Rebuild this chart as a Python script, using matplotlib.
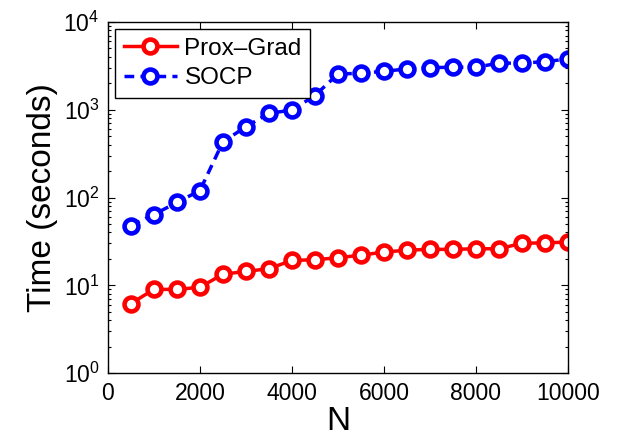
import matplotlib
matplotlib.use("Agg")
import matplotlib.pyplot as plt

plt.rcParams['font.family'] = ['Liberation Sans', 'DejaVu Sans']

N = [500, 1000, 1500, 2000, 2500, 3000, 3500, 4000, 4500, 5000,
     5500, 6000, 6500, 7000, 7500, 8000, 8500, 9000, 9500, 10000]
prox_grad = [6.2, 9.0, 9.0, 9.5, 13.4, 14.4, 15.5, 19.2, 19.6, 20.6,
             22.1, 23.9, 25.2, 25.7, 25.7, 26.1, 26.1, 30.1, 30.5, 31.1]
socp = [48, 64, 88, 120, 430, 640, 910, 990, 1450, 2550,
        2600, 2740, 2910, 3010, 3050, 3050, 3390, 3390, 3530, 3780]

fig = plt.figure(figsize=(6.2, 4.38), dpi=100)
ax = fig.add_axes([0.174, 0.148, 0.742, 0.802])

ax.plot(N, prox_grad, '-o', color='red', lw=2.5, ms=10, mew=3.3,
        mfc='white', label='Prox\u2013Grad')
ax.plot(N, socp, '--o', color='blue', lw=2.5, ms=10, mew=3.3,
        mfc='white', dashes=(2.8, 1.8), label='SOCP')

ax.set_yscale('log')
ax.set_xlim(0, 10000)
ax.set_ylim(1, 1e4)
ax.set_xticks([0, 2000, 4000, 6000, 8000, 10000])
ax.tick_params(which='both', direction='in', top=True, right=True,
               labelsize=16.5, width=0.8)
ax.tick_params(which='major', length=5, pad=6)
ax.tick_params(which='minor', length=2.5)
for s in ax.spines.values():
    s.set_linewidth(1.0)

ax.set_xlabel('N', fontsize=24, labelpad=1)
ax.set_ylabel('Time (seconds)', fontsize=24, labelpad=4)

leg = ax.legend(loc='upper left', fontsize=17.5, fancybox=False,
                edgecolor='black', framealpha=1, borderpad=0.35,
                handlelength=2.2, handletextpad=0.3, labelspacing=0.3,
                borderaxespad=0.3)
leg.get_frame().set_linewidth(1.0)

fig.savefig('out.png', dpi=100)
